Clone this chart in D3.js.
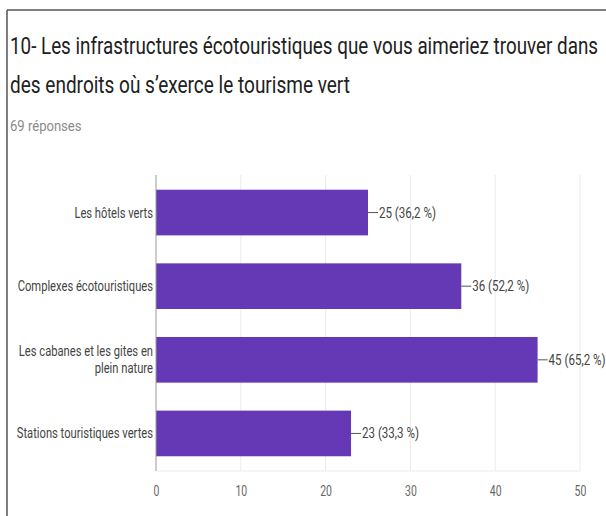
<!DOCTYPE html>
<html>
<head>
<meta charset="utf-8">
<script src="https://cdn.jsdelivr.net/npm/d3@7"></script>
<style>
  html, body { margin: 0; padding: 0; background: #fff; }
  svg { display: block; }
  text { font-family: Roboto, "Noto Sans", sans-serif; }
</style>
</head>
<body>
<svg id="chart" width="606" height="516"></svg>
<script>
const titleLines = ["10- Les infrastructures écotouristiques que vous aimeriez trouver dans",
                    "des endroits où s’exerce le tourisme vert"];
const subtitle = "69 réponses";
const categories = ["Les hôtels verts", "Complexes écotouristiques",
                    "Les cabanes et les gites en plein nature", "Stations touristiques vertes"];
const categoryLabelLines = [["Les hôtels verts"], ["Complexes écotouristiques"],
                            ["Les cabanes et les gites en", "plein nature"], ["Stations touristiques vertes"]];
const counts = [25, 36, 45, 23];
const percents = ["36,2", "52,2", "65,2", "33,3"];
const tickValues = [0, 10, 20, 30, 40, 50];

const svg = d3.select("#chart");
function squeeze(sel, f) {
  sel.each(function () {
    const w = this.getComputedTextLength();
    this.setAttribute("textLength", (w * f).toFixed(1));
    this.setAttribute("lengthAdjust", "spacingAndGlyphs");
  });
}

// frame
svg.append("line").attr("x1", 7).attr("x2", 7).attr("y1", 10).attr("y2", 516)
  .attr("stroke", "#555").attr("stroke-width", 1.5);
svg.append("line").attr("x1", 7).attr("x2", 606).attr("y1", 10).attr("y2", 10)
  .attr("stroke", "#555").attr("stroke-width", 1.5);

// title
const titleWidths = [588, 340];
svg.selectAll("text.title").data(titleLines).enter().append("text")
  .attr("class", "title")
  .attr("x", 10).attr("y", (d, i) => 54 + i * 39)
  .attr("font-size", 23.5).attr("fill", "#212121")
  .attr("textLength", (d, i) => titleWidths[i])
  .attr("lengthAdjust", "spacingAndGlyphs")
  .text(d => d);

svg.append("text").attr("x", 10).attr("y", 131)
  .attr("font-size", 15).attr("fill", "#8a8a8a")
  .text(subtitle).call(squeeze, 0.87);

const x = d3.scaleLinear().domain([0, 50]).range([156, 580]);
const y = d3.scaleBand().domain(categories).range([175, 471]).paddingInner(0.38).paddingOuter(0.2);

// gridlines
svg.append("g").selectAll("line").data(tickValues.slice(1)).enter().append("line")
  .attr("x1", d => x(d)).attr("x2", d => x(d)).attr("y1", 175).attr("y2", 471)
  .attr("stroke", "#ebebeb").attr("stroke-width", 1);
svg.append("line").attr("x1", x(0)).attr("x2", x(50)).attr("y1", 471).attr("y2", 471)
  .attr("stroke", "#ebebeb");

// bars
svg.append("g").selectAll("rect").data(categories).enter().append("rect")
  .attr("x", x(0)).attr("y", d => y(d))
  .attr("width", (d, i) => x(counts[i]) - x(0))
  .attr("height", y.bandwidth())
  .attr("fill", "#6539b5");

// zero axis
svg.append("line").attr("x1", x(0)).attr("x2", x(0)).attr("y1", 175).attr("y2", 471)
  .attr("stroke", "#9a9a9a").attr("stroke-width", 1);

// value labels
const vg = svg.append("g").selectAll("g").data(categories).enter().append("g");
vg.append("line")
  .attr("x1", (d, i) => x(counts[i])).attr("x2", (d, i) => x(counts[i]) + 10)
  .attr("y1", d => y(d) + y.bandwidth() / 2).attr("y2", d => y(d) + y.bandwidth() / 2)
  .attr("stroke", "#555").attr("stroke-width", 1);
vg.append("text")
  .attr("x", (d, i) => x(counts[i]) + 11)
  .attr("y", d => y(d) + y.bandwidth() / 2 + 5)
  .attr("font-size", 15).attr("fill", "#444")
  .text((d, i) => `${counts[i]} (${percents[i]} %)`)
  .call(squeeze, 0.77);

// category labels
const cg = svg.append("g").selectAll("text").data(categories).enter().append("text")
  .attr("text-anchor", "end").attr("font-size", 15).attr("fill", "#444")
  .attr("y", d => y(d) + y.bandwidth() / 2);
cg.each(function (d, i) {
  const lines = categoryLabelLines[i];
  const n = lines.length;
  lines.forEach((ln, k) => {
    d3.select(this).append("tspan")
      .attr("x", x(0) - 3)
      .attr("dy", k === 0 ? (5 - (n - 1) * 8.5) : 17)
      .text(ln);
  });
});
cg.selectAll("tspan").call(squeeze, 0.745);

// x axis
const axis = d3.axisBottom(x).tickValues(tickValues).tickSize(0).tickPadding(14);
const ag = svg.append("g").attr("transform", "translate(0,471)").call(axis);
ag.select(".domain").remove();
ag.selectAll("text").attr("font-size", 15).attr("fill", "#666")
  .style("font-family", "Roboto, 'Noto Sans', sans-serif").call(squeeze, 0.7);
</script>
</body>
</html>
